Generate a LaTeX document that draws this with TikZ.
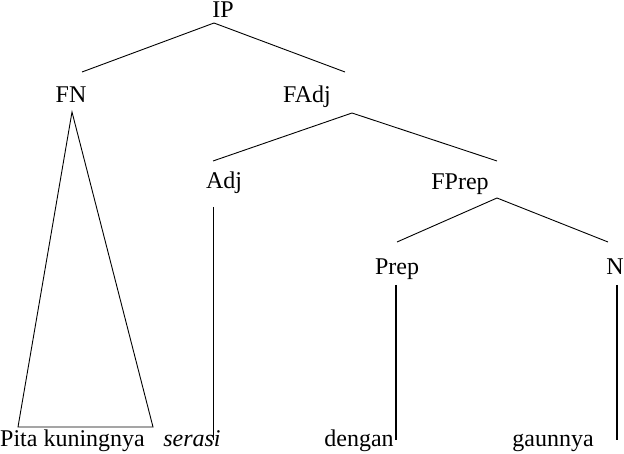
\documentclass[tikz,border=0pt]{standalone}
\usepackage{fontspec}
\setmainfont{Liberation Serif}
\begin{document}
\begin{tikzpicture}[x=1pt,y=-1pt,
  lbl/.style={inner sep=0pt,anchor=base,font=\fontsize{24}{28}\selectfont},
  br/.style={line width=0.9pt},
  thick branch/.style={line width=1.8pt}]
\useasboundingbox (0,0) rectangle (624,454);
% labels
\node[lbl] (IP) at (223,18) {IP};
\node[lbl] (FN) at (71,103) {FN};
\node[lbl] (FAdj) at (307,103) {FAdj};
\node[lbl] (Adj) at (224,189) {Adj};
\node[lbl] (FPrep) at (460,190) {FPrep};
\node[lbl] (Prep) at (397,275) {Prep};
\node[lbl] (N) at (615,275) {N};
\node[lbl,anchor=base west] (pita) at (0,446) {Pita kuningnya};
\node[lbl] (serasi) at (192,446) {\itshape serasi};
\node[lbl] (dengan) at (359,446) {dengan};
\node[lbl] (gaunnya) at (553,446) {gaunnya};
% branch points
\coordinate (IPb) at (214,23);
\coordinate (FNt) at (82,72);
\coordinate (FAdjt) at (345,72);
\coordinate (FAdjb) at (352,113);
\coordinate (Adjt) at (213,161);
\coordinate (FPrept) at (497,161);
\coordinate (FPrepb) at (497,198);
\coordinate (Prept) at (397,242);
\coordinate (Nt) at (608,242);
\coordinate (FNb) at (72,112);
\coordinate (triL) at (18,427);
\coordinate (triR) at (153,427);
\coordinate (Adjb) at (213,207);
\coordinate (serasit) at (213,440);
\coordinate (Prepb) at (396,285);
\coordinate (dengant) at (396,440);
\coordinate (Nb) at (617,285);
\coordinate (gaunt) at (617,440);
% connectors
\draw[br] (FNt) -- (IPb) -- (FAdjt);
\draw[br] (Adjt) -- (FAdjb) -- (FPrept);
\draw[br] (Prept) -- (FPrepb) -- (Nt);
\draw[br,line join=miter] (FNb) -- (triL) -- (triR) -- cycle;
\draw[br] (Adjb) -- (serasit);
\draw[thick branch] (Prepb) -- (dengant);
\draw[thick branch] (Nb) -- (gaunt);
\end{tikzpicture}
\end{document}
